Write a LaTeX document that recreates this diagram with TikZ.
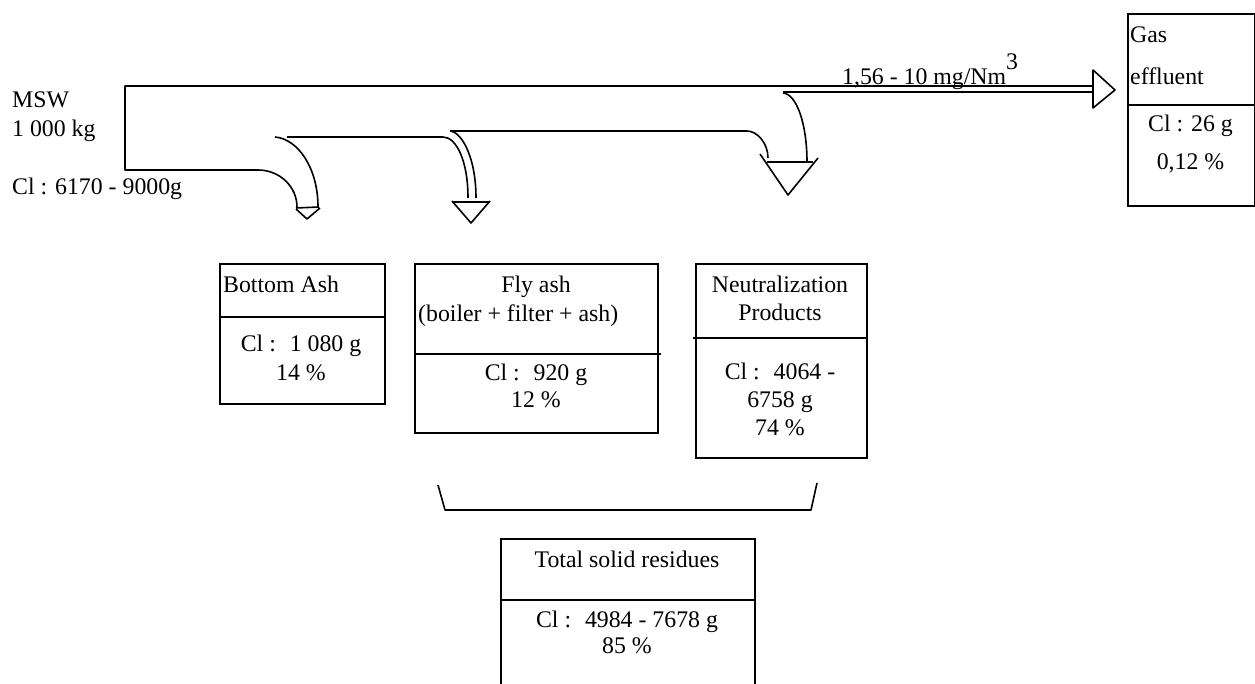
\documentclass[tikz,border=0pt]{standalone}
\usepackage{fontspec}
\setmainfont{Liberation Serif}
\usetikzlibrary{calc}
\begin{document}
\begin{tikzpicture}[x=1pt,y=-1pt,
  every node/.style={inner sep=0pt, font=\fontsize{23.8}{28}\selectfont},
  box/.style={draw, line width=1.8pt, anchor=north west},
  lbl/.style={anchor=base},
  lblw/.style={anchor=base west},
  flow/.style={line width=1.6pt, line join=round},
  sep/.style={line width=1.8pt}]
\clip (0,0) rectangle (1255,684);
\fill[white] (0,0) rectangle (1255,684);

% boxes
\node[box, minimum width=165, minimum height=140] (ba) at (219,263) {};
\node[box, minimum width=243, minimum height=169] (fa) at (414,263) {};
\node[box, minimum width=171, minimum height=194] (np) at (695,263) {};
\node[box, minimum width=254, minimum height=200] (ts) at (500,538) {};
\node[box, minimum width=127, minimum height=192] (ge) at (1127,13) {};

% dividers
\draw[sep] (ba.north west) ++(0,54) -- ++(167,0);
\draw[sep] (fa.north west) ++(0,91) -- ++(247,0);
\draw[sep] (np.north west) ++(-2,75) -- ++(175,0);
\draw[sep] (ts.north west) ++(0,62) -- ++(254,0);
\draw[sep] (ge.north west) ++(0,92) -- ++(127,0);

% texts
\node[lblw] (msw1) at (12,108) {MSW};
\node[lblw] (msw2) at (12,137) {1 000 kg};
\node[lblw] (msw3) at (12,195) {Cl : 6170 - 9000g};

\node[lblw] (gas) at (1130,43) {Gas};
\node[lblw] (eff) at (1130,85) {effluent};
\node[lbl] (gecl) at (1190.5,132) {Cl : 26 g};
\node[lbl] (gep) at (1190.5,170) {0,12 \%};
\node[lblw] (conc) at (842,85) {1,56 - 10 mg/Nm\raisebox{15pt}{3}};

\node[lblw] (bat) at (223,293) {Bottom Ash};
\node[lbl] (bacl) at (301,352) {Cl :~ 1 080 g};
\node[lbl] (bap) at (301,380) {14 \%};

\node[lbl] (fat) at (536,293) {Fly ash};
\node[lblw] (fat2) at (418,322) {(boiler + filter + ash)};
\node[lbl] (facl) at (536,380) {Cl :~ 920 g};
\node[lbl] (fap) at (536,407) {12 \%};

\node[lbl] (npt) at (780,293) {Neutralization};
\node[lbl] (npt2) at (780,321) {Products};
\node[lbl] (npcl) at (780,379) {Cl :~ 4064 -};
\node[lbl] (npcl2) at (780,407) {6758 g};
\node[lbl] (npp) at (780,435) {74 \%};

\node[lbl] (tst) at (627,567) {Total solid residues};
\node[lbl] (tscl) at (627,627) {Cl :~ 4984 - 7678 g};
\node[lbl] (tsp) at (627,653) {85 \%};

% flows
\draw[flow] (1093,86) -- (125,86) -- (125,170) -- (258,170)
  .. controls (280,170) and (297,187) .. (297,207);
\draw[flow] (275,137) .. controls (298,139) and (318,168) .. (318,207);
\draw[flow] (287,137) -- (443,137) .. controls (456,137) and (468,160) .. (468,198);
\draw[flow] (450,131) .. controls (462,132) and (476,158) .. (476,198);
\draw[flow] (450,131) -- (747,131) .. controls (757,131) and (768,143) .. (768,158);
\draw[flow] (783,92) -- (1093,92);
\draw[flow] (783,93) .. controls (797,94) and (807,125) .. (807,162);

% arrowheads
\draw[flow] (296,209) -- (307,219) -- (320,208);
\draw[flow] (296,208) -- (319,207);
\draw[flow] (452,201) -- (471,223) -- (490,201);
\draw[flow] (452,202) -- (490,202);
\draw[flow] (760,154) -- (788,195) -- (818,158);
\draw[flow] (767,162) -- (813,162);
\draw[flow] (1093,70) -- (1115,90) -- (1093,108) -- cycle;

% bracket
\draw[flow] (438,485) -- (445,510) -- (811,510) -- (817,483);
\end{tikzpicture}
\end{document}
